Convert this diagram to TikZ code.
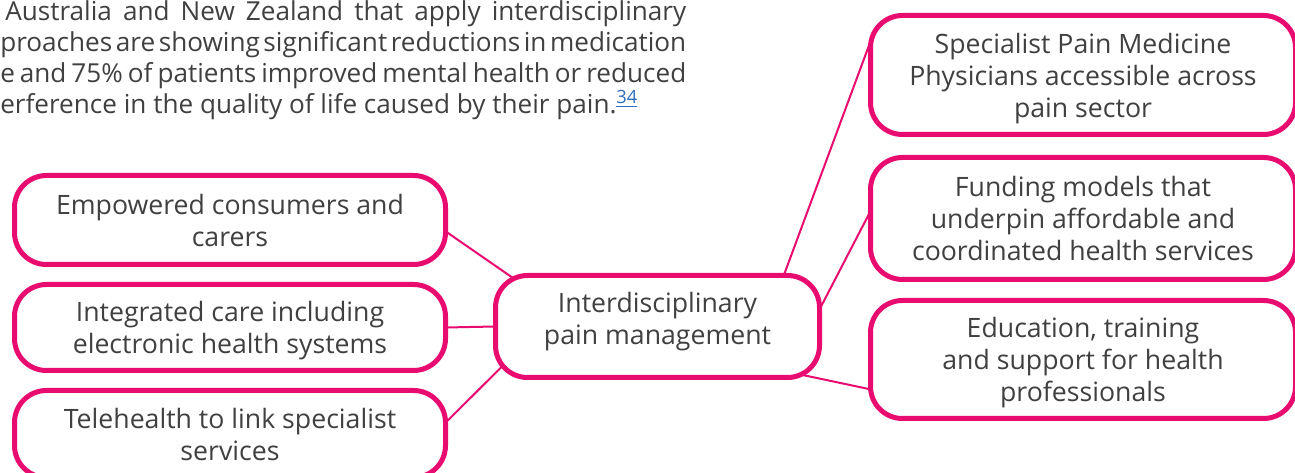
\documentclass[tikz,border=0pt]{standalone}
\usepackage{fontspec}
\setmainfont{Open Sans}
\newfontfamily\parafont{Open Sans}[WordSpace={1,1,1.5}]
\usetikzlibrary{backgrounds}
\definecolor{pk}{RGB}{233,12,112}
\definecolor{txt}{RGB}{64,64,64}
\definecolor{lnk}{RGB}{46,110,186}

\begin{document}
\begin{tikzpicture}[x=0.75pt, y=-0.75pt, main/.style = {draw=pk, line width=3.75pt, rounded corners=24pt, fill=white, text=txt, align=center, inner sep=0pt, outer sep=0pt, minimum width=323.25pt, text height=46.8pt, text depth=7.2pt, font=\fontsize{20}{24}\selectfont}, three/.style = {minimum width=318.75pt, text height=70.8pt}, para/.style = {anchor=base west, inner sep=0pt, text=txt, font=\parafont\fontsize{19.6}{23}\selectfont}, link/.style = {draw=pk, line width=1.5pt, shorten <=-10pt, shorten >=-10pt}]
\useasboundingbox (0,0) rectangle (1295,473);
\node[para] (8) at (5,21) {\makebox[510.75pt][s]{Australia and New Zealand that apply interdisciplinary}};
\node[para] (9) at (0,52) {\makebox[514.5pt][s]{proaches are showing significant reductions in medication}};
\node[para] (10) at (0,83) {\makebox[514.5pt][s]{e and 75\% of patients improved mental health or reduced}};
\node[para] (11) at (0,114) {erference in the quality of life caused by their pain.\textsuperscript{\color{lnk}\underline{34}}};
\node[main, minimum height=66.75pt] (1) at (230,220) {Empowered consumers and\\carers};
\node[main, minimum height=64.5pt] (2) at (230,327.5) {Integrated care including\\electronic health systems};
\node[main, minimum height=65.25pt] (3) at (230,434) {Telehealth to link specialist\\services};
\node[main, minimum width=243pt, minimum height=76.5pt, text height=43.8pt, text depth=16.5pt] (4) at (657.5,326.5) {Interdisciplinary\\pain management};
\node[main, three, minimum height=89.25pt] (5) at (1083,75) {Specialist Pain Medicine\\Physicians accessible across\\pain sector};
\node[main, three, minimum height=91.5pt] (6) at (1083,218.5) {Funding models that\\underpin affordable and\\coordinated health services};
\node[main, three, minimum height=88.5pt] (7) at (1083,359.5) {Education, training\\and support for health\\professionals};
\begin{scope}[on background layer]
\draw[link] (1.-3) -- (4.161);
\draw[link] (2.east) -- (4.west);
\draw[link] (3.3) -- (4.196);
\draw[link] (4.22) -- (5.171.5);
\draw[link] (4.6) -- (6.178.6);
\draw[link] (4.-18.5) -- (7.188.3);
\end{scope}
\end{tikzpicture}
\end{document}
